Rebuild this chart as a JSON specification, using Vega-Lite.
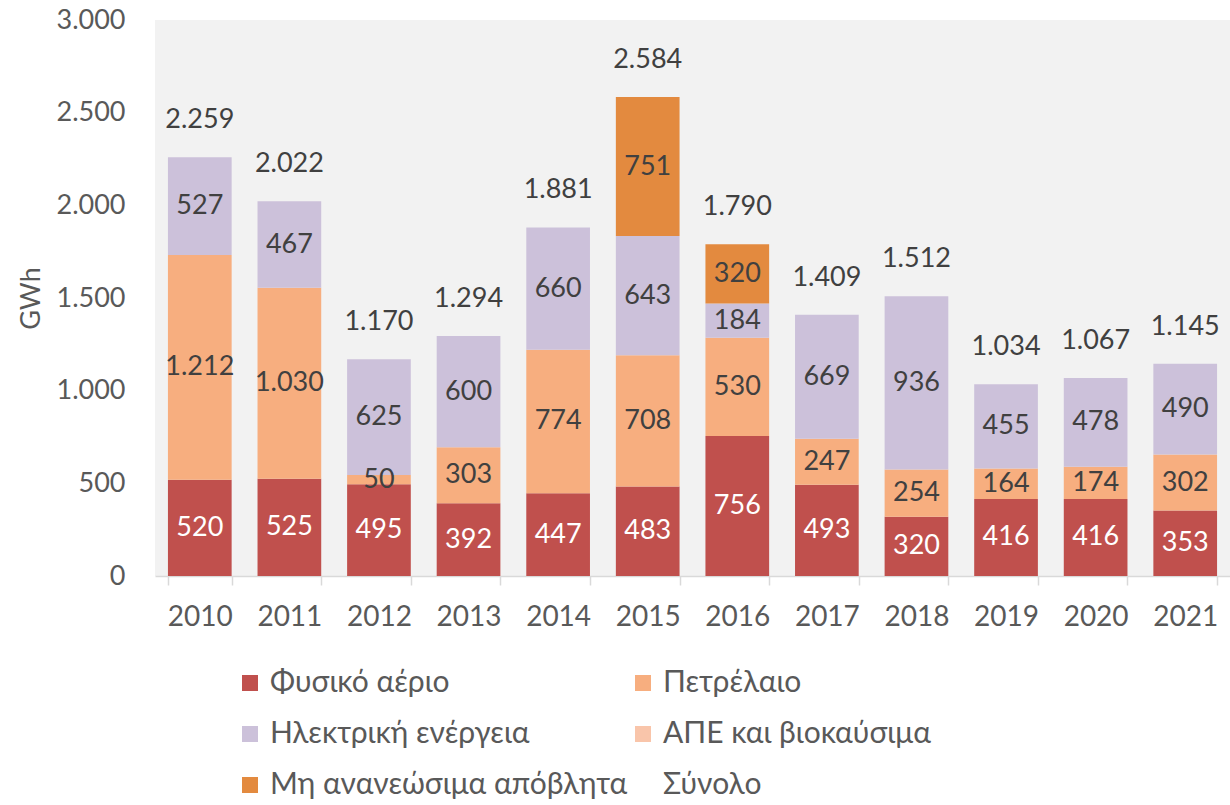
{
  "$schema": "https://vega.github.io/schema/vega-lite/v6.json",
  "width": 1075,
  "height": 556,
  "autosize": {"type": "none"},
  "padding": {"left": 155, "top": 20, "right": 0, "bottom": 229},
  "background": "white",
  "config": {
    "locale": {"number": {"decimal": ",", "thousands": ".", "grouping": [3], "currency": ["", " €"]}},
    "view": {"fill": "#F2F2F2", "stroke": null},
    "font": "Lato"
  },
  "datasets": {
    "parts": [
      {"year": "2010", "source": "Φυσικό αέριο", "value": 520},
      {"year": "2010", "source": "Πετρέλαιο", "value": 1212},
      {"year": "2010", "source": "Ηλεκτρική ενέργεια", "value": 527},
      {"year": "2011", "source": "Φυσικό αέριο", "value": 525},
      {"year": "2011", "source": "Πετρέλαιο", "value": 1030},
      {"year": "2011", "source": "Ηλεκτρική ενέργεια", "value": 467},
      {"year": "2012", "source": "Φυσικό αέριο", "value": 495},
      {"year": "2012", "source": "Πετρέλαιο", "value": 50},
      {"year": "2012", "source": "Ηλεκτρική ενέργεια", "value": 625},
      {"year": "2013", "source": "Φυσικό αέριο", "value": 392},
      {"year": "2013", "source": "Πετρέλαιο", "value": 303},
      {"year": "2013", "source": "Ηλεκτρική ενέργεια", "value": 600},
      {"year": "2014", "source": "Φυσικό αέριο", "value": 447},
      {"year": "2014", "source": "Πετρέλαιο", "value": 774},
      {"year": "2014", "source": "Ηλεκτρική ενέργεια", "value": 660},
      {"year": "2015", "source": "Φυσικό αέριο", "value": 483},
      {"year": "2015", "source": "Πετρέλαιο", "value": 708},
      {"year": "2015", "source": "Ηλεκτρική ενέργεια", "value": 643},
      {"year": "2015", "source": "Μη ανανεώσιμα απόβλητα", "value": 751},
      {"year": "2016", "source": "Φυσικό αέριο", "value": 756},
      {"year": "2016", "source": "Πετρέλαιο", "value": 530},
      {"year": "2016", "source": "Ηλεκτρική ενέργεια", "value": 184},
      {"year": "2016", "source": "Μη ανανεώσιμα απόβλητα", "value": 320},
      {"year": "2017", "source": "Φυσικό αέριο", "value": 493},
      {"year": "2017", "source": "Πετρέλαιο", "value": 247},
      {"year": "2017", "source": "Ηλεκτρική ενέργεια", "value": 669},
      {"year": "2018", "source": "Φυσικό αέριο", "value": 320},
      {"year": "2018", "source": "Πετρέλαιο", "value": 254},
      {"year": "2018", "source": "Ηλεκτρική ενέργεια", "value": 936},
      {"year": "2019", "source": "Φυσικό αέριο", "value": 416},
      {"year": "2019", "source": "Πετρέλαιο", "value": 164},
      {"year": "2019", "source": "Ηλεκτρική ενέργεια", "value": 455},
      {"year": "2020", "source": "Φυσικό αέριο", "value": 416},
      {"year": "2020", "source": "Πετρέλαιο", "value": 174},
      {"year": "2020", "source": "Ηλεκτρική ενέργεια", "value": 478},
      {"year": "2021", "source": "Φυσικό αέριο", "value": 353},
      {"year": "2021", "source": "Πετρέλαιο", "value": 302},
      {"year": "2021", "source": "Ηλεκτρική ενέργεια", "value": 490}
    ],
    "totals": [
      {"year": "2010", "total": 2259},
      {"year": "2011", "total": 2022},
      {"year": "2012", "total": 1170},
      {"year": "2013", "total": 1294},
      {"year": "2014", "total": 1881},
      {"year": "2015", "total": 2584},
      {"year": "2016", "total": 1790},
      {"year": "2017", "total": 1409},
      {"year": "2018", "total": 1512},
      {"year": "2019", "total": 1034},
      {"year": "2020", "total": 1067},
      {"year": "2021", "total": 1145}
    ]
  },
  "encoding": {
    "x": {
      "field": "year", "type": "nominal", "sort": null,
      "scale": {"paddingInner": 0.289, "paddingOuter": 0.1445},
      "axis": {
        "title": null, "labelAngle": 0, "labelFontSize": 28, "labelColor": "#595959",
        "domainColor": "#D9D9D9", "domainWidth": 1.5, "tickColor": "#D9D9D9", "tickWidth": 1.5,
        "tickSize": 9, "tickBand": "extent", "labelPadding": 18, "grid": false
      }
    }
  },
  "layer": [
    {
      "data": {"name": "parts"},
      "transform": [{"stack": "value", "groupby": ["year"], "as": ["v0", "v1"]}],
      "mark": {"type": "bar"},
      "encoding": {
        "y": {
          "field": "v0", "type": "quantitative",
          "scale": {"domain": [0, 3000], "nice": false},
          "axis": {
            "title": "GWh", "titleFontSize": 27, "titleFontWeight": "normal", "titleColor": "#595959",
            "titlePadding": 10, "labelFontSize": 27, "labelColor": "#595959", "domain": false,
            "ticks": false, "grid": false, "values": [0, 500, 1000, 1500, 2000, 2500, 3000],
            "format": ",d", "labelPadding": 30
          }
        },
        "y2": {"field": "v1"},
        "color": {
          "field": "source", "type": "nominal",
          "scale": {
            "domain": ["Φυσικό αέριο", "Ηλεκτρική ενέργεια", "Μη ανανεώσιμα απόβλητα", "Πετρέλαιο", "ΑΠΕ και βιοκαύσιμα", "Σύνολο"],
            "range": ["#C0504D", "#CCC1DA", "#E38A3F", "#F7AE7F", "#F9C5AA", "rgba(0,0,0,0)"]
          },
          "legend": {
            "title": null, "orient": "none", "legendX": 80, "legendY": 648, "columns": 2,
            "symbolType": "square", "symbolSize": 256, "symbolStrokeWidth": 0,
            "labelFontSize": 30, "labelColor": "#595959", "labelLimit": 600,
            "rowPadding": 21, "columnPadding": 0, "labelOffset": 5
          }
        }
      }
    },
    {
      "data": {"name": "parts"},
      "transform": [
        {"stack": "value", "groupby": ["year"], "as": ["v0", "v1"]},
        {"calculate": "(datum.v0 + datum.v1) / 2", "as": "mid"}
      ],
      "mark": {"type": "text", "fontSize": 27, "baseline": "middle", "align": "center"},
      "encoding": {
        "y": {"field": "mid", "type": "quantitative"},
        "text": {"field": "value", "type": "quantitative", "format": ",d"},
        "color": {
          "condition": {"test": "datum.source === 'Φυσικό αέριο'", "value": "white"},
          "value": "#404040"
        }
      }
    },
    {
      "data": {"name": "totals"},
      "mark": {"type": "text", "fontSize": 27, "baseline": "middle", "align": "center", "dy": -37, "color": "#404040"},
      "encoding": {
        "y": {"field": "total", "type": "quantitative"},
        "text": {"field": "total", "type": "quantitative", "format": ",d"}
      }
    }
  ]
}
